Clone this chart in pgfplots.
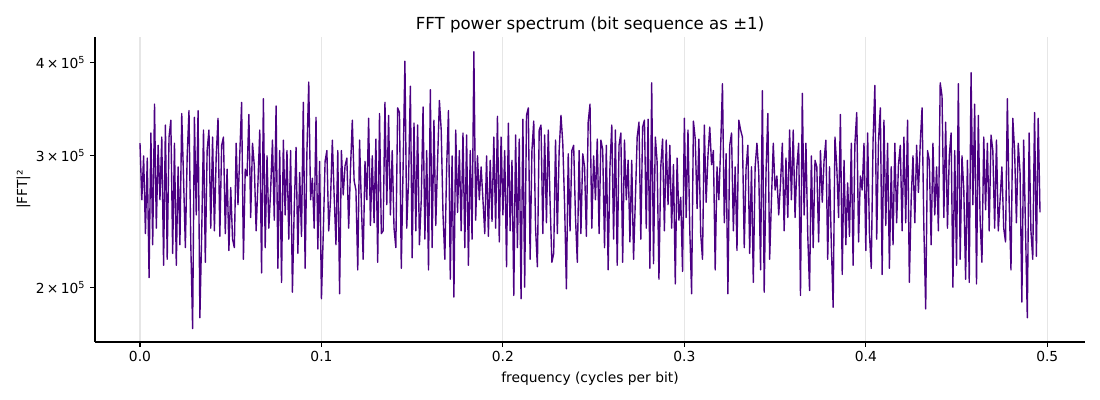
\documentclass[border=0pt]{standalone}
\usepackage{fontspec}
\setmainfont{DejaVu Sans}
\usepackage{pgfplots}
\usepackage{pgfplotstable}
\pgfplotsset{compat=1.18}
\definecolor{indigo}{RGB}{75,0,130}
\definecolor{gridgray}{RGB}{230,230,230}
\pgfplotstableread[row sep=\\]{
p\\
312\\262\\300\\236\\298\\206\\322\\228\\352\\240\\310\\262\\318\\214\\330\\218\\318\\335\\222\\312\\214\\290\\228\\342\\280\\226\\300\\345\\228\\176\\338\\250\\345\\182\\236\\325\\216\\305\\325\\240\\318\\238\\300\\337\\234\\310\\318\\236\\288\\224\\272\\232\\226\\312\\258\\302\\354\\218\\288\\282\\341\\248\\312\\
291\\238\\276\\325\\209\\358\\226\\300\\240\\270\\315\\246\\350\\212\\305\\203\\315\\250\\305\\232\\305\\197\\255\\308\\222\\285\\234\\354\\212\\304\\377\\262\\280\\240\\338\\225\\295\\193\\236\\295\\305\\238\\262\\315\\265\\228\\305\\196\\305\\266\\291\\298\\240\\288\\335\\278\\270\\211\\315\\258\\218\\295\\262\\
337\\242\\300\\244\\316\\216\\342\\236\\238\\354\\258\\340\\250\\305\\240\\226\\348\\343\\212\\290\\402\\240\\278\\372\\219\\332\\238\\330\\228\\262\\349\\232\\305\\211\\368\\226\\335\\242\\295\\356\\325\\250\\218\\290\\345\\205\\300\\194\\325\\252\\305\\238\\322\\226\\320\\214\\305\\232\\414\\246\\300\\262\\290\\
262\\236\\300\\234\\296\\245\\318\\240\\339\\230\\318\\250\\305\\213\\332\\238\\296\\195\\320\\226\\316\\193\\336\\200\\340\\348\\218\\305\\334\\240\\213\\325\\330\\236\\320\\244\\325\\260\\216\\222\\315\\236\\305\\340\\312\\258\\199\\302\\238\\305\\310\\248\\216\\305\\236\\302\\290\\234\\333\\352\\240\\300\\262\\
316\\236\\315\\306\\226\\310\\211\\290\\330\\232\\325\\214\\310\\322\\216\\315\\262\\296\\230\\296\\218\\262\\318\\333\\232\\328\\335\\240\\336\\212\\376\\215\\318\\294\\205\\290\\316\\238\\315\\258\\310\\240\\292\\202\\298\\246\\264\\210\\337\\248\\325\\238\\196\\334\\316\\255\\316\\236\\218\\330\\260\\300\\328\\
292\\305\\211\\290\\262\\308\\375\\244\\302\\196\\310\\322\\238\\290\\224\\335\\325\\318\\226\\288\\310\\222\\290\\203\\290\\312\\285\\211\\367\\197\\285\\342\\218\\262\\312\\270\\282\\250\\276\\312\\238\\298\\248\\325\\262\\325\\248\\290\\312\\195\\364\\250\\312\\235\\198\\300\\226\\296\\290\\230\\305\\260\\296\\
315\\218\\290\\228\\188\\318\\290\\248\\341\\208\\296\\228\\276\\234\\312\\214\\312\\343\\230\\282\\270\\312\\224\\322\\236\\212\\315\\373\\232\\315\\348\\208\\335\\242\\312\\212\\290\\228\\312\\244\\292\\310\\238\\318\\244\\335\\203\\262\\300\\244\\310\\268\\312\\348\\240\\187\\305\\296\\228\\312\\250\\290\\238\\
376\\361\\248\\333\\240\\300\\322\\200\\305\\214\\375\\218\\300\\270\\205\\296\\203\\388\\258\\352\\202\\340\\246\\216\\318\\254\\312\\238\\320\\305\\240\\315\\238\\262\\290\\240\\230\\358\\260\\211\\337\\305\\244\\312\\285\\191\\315\\240\\182\\322\\238\\218\\343\\220\\337\\252\\
}\spectrum
\begin{document}
\begin{tikzpicture}
\useasboundingbox (0,0) rectangle (792bp,288bp);
\begin{axis}[
  at={(68.4bp,41.76bp)}, anchor=south west,
  scale only axis, width=712.8bp, height=219.6bp,
  xmin=-0.0248, xmax=0.5208,
  ymode=log, ymin=168900, ymax=433200,
  axis x line*=bottom, axis y line*=left,
  axis line style={-, line width=0.8pt, black},
  tick align=outside, major tick length=3.5pt,
  tick style={line width=0.8pt, black},
  xtick={0,0.1,0.2,0.3,0.4,0.5},
  xticklabels={0.0,0.1,0.2,0.3,0.4,0.5},
  ytick={200000,300000,400000},
  yticklabels={2\,×\,10\textsuperscript{5},3\,×\,10\textsuperscript{5},4\,×\,10\textsuperscript{5}},
  minor ytick={},
  xmajorgrids, major grid style={gridgray, line width=0.8pt},
  tick label style={font=\fontsize{10}{12}\selectfont},
  xlabel={frequency (cycles per bit)},
  ylabel={|FFT|²},
  ylabel shift=-3pt,
  label style={font=\fontsize{10}{12}\selectfont},
  title={FFT power spectrum (bit sequence as ±1)},
  title style={font=\fontsize{12}{14}\selectfont, at={(0.5,1)}, anchor=base, yshift=-0.5pt, inner sep=0pt},
]
\addplot[indigo, line width=1pt, line join=round, mark=none]
  table[x index=0, y index=0, x expr=\coordindex*0.001, y expr=\thisrow{p}*1000] {\spectrum};
\end{axis}
\end{tikzpicture}
\end{document}
